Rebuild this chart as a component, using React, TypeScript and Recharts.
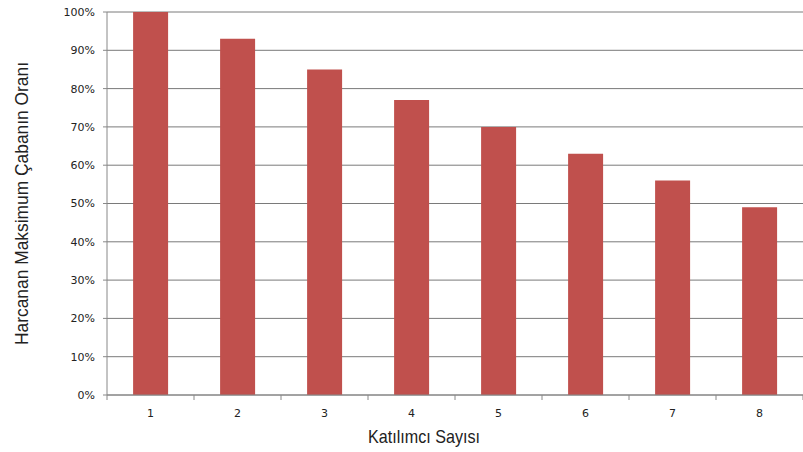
import React from 'react';
import { BarChart, Bar, XAxis, YAxis, CartesianGrid } from 'recharts';

const participants = ['1', '2', '3', '4', '5', '6', '7', '8'];
const effortShare = [100, 93, 85, 77, 70, 63, 56, 49];
const percentTicks = [0, 10, 20, 30, 40, 50, 60, 70, 80, 90, 100];

const data = participants.map((p, i) => ({ name: p, value: effortShare[i] }));

const W = 803;
const H = 452;
const LEFT = 107;
const TOP = 12;
const BOTTOM = 57;
const band = (W - LEFT) / participants.length;
const titleFont = 'Liberation Sans, Arial, sans-serif';

const XTick = (props: any) => {
  const { x, y, payload, index } = props;
  const left = x - band / 2;
  return (
    <g>
      <line x1={left} y1={y - 8} x2={left} y2={y - 3} stroke="#888" />
      {index === participants.length - 1 && (
        <line x1={left + band} y1={y - 8} x2={left + band} y2={y - 3} stroke="#888" />
      )}
      <text x={x} y={y + 14} textAnchor="middle" fontSize={11} fill="#222" fontFamily="DejaVu Sans, Verdana, sans-serif">
        {payload.value}
      </text>
    </g>
  );
};

const XTitle = () => (
  <text x={424} y={443} textAnchor="middle" fontSize={19} fill="#222" fontFamily={titleFont}
    textLength={112} lengthAdjust="spacingAndGlyphs">
    Katılımcı Sayısı
  </text>
);

const YTitle = () => {
  const cy = TOP + (H - BOTTOM - TOP) / 2;
  return (
    <text x={28} y={cy} transform={`rotate(-90, 28, ${cy})`} textAnchor="middle" fontSize={19} fill="#222"
      fontFamily={titleFont} textLength={283} lengthAdjust="spacingAndGlyphs">
      Harcanan Maksimum Çabanın Oranı
    </text>
  );
};

export default function App() {
  return (
    <div style={{ position: 'absolute', left: 0, top: 0, width: W, height: H, background: '#fff' }}>
      <BarChart width={W} height={H} data={data} margin={{ top: TOP, right: 0, bottom: 0, left: 0 }} barCategoryGap="30%">
        <CartesianGrid vertical={false} stroke="#7a7a7a" />
        <XAxis
          dataKey="name"
          height={BOTTOM}
          tickLine={false}
          axisLine={{ stroke: '#888' }}
          tick={<XTick />}
          interval={0}
          label={{ content: () => <XTitle /> }}
        />
        <YAxis
          width={LEFT}
          domain={[0, 100]}
          ticks={percentTicks}
          interval={0}
          tickFormatter={(v: number) => `${v}%`}
          tickSize={4}
          tickMargin={8}
          axisLine={{ stroke: '#888' }}
          tickLine={{ stroke: '#888' }}
          tick={{ fontSize: 11, fill: '#222', fontFamily: 'DejaVu Sans, Verdana, sans-serif' }}
          label={{ content: () => <YTitle /> }}
        />
        <Bar dataKey="value" fill="#C0504D" isAnimationActive={false} />
      </BarChart>
    </div>
  );
}
